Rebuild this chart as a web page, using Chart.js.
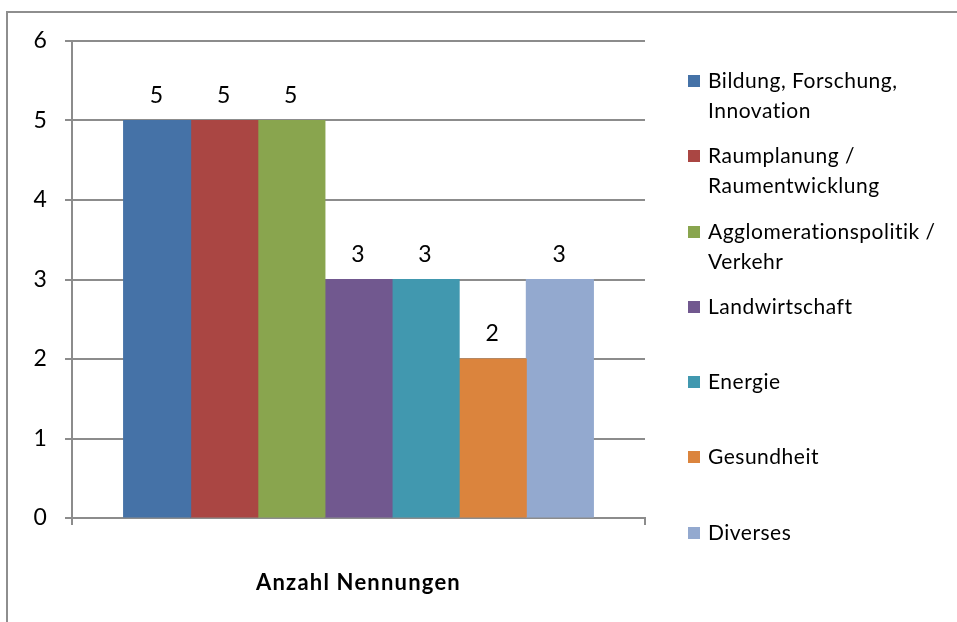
<!DOCTYPE html>
<html>
<head>
<meta charset="utf-8">
<script src="https://cdn.jsdelivr.net/npm/chart.js@4/dist/chart.umd.min.js"></script>
<style>
  html, body { margin: 0; padding: 0; background: #fff; overflow: hidden; }
  #wrap { position: relative; width: 957px; height: 622px; overflow: hidden; }
  #frame {
    position: absolute; left: 6px; top: 11px; width: 1000px; height: 700px;
    border-left: 2px solid #8e8e8e; border-top: 2px solid #8e8e8e;
  }
  #chart { position: absolute; left: 0; top: 0; }
  #legend {
    position: absolute; left: 688px; top: 65px;
    font-family: Lato, sans-serif; font-size: 21px; letter-spacing: 0.5px; color: #000;
  }
  .item { height: 75.3px; display: flex; align-items: flex-start; }
  .box { width: 12px; height: 12px; margin-top: 10px; margin-right: 8px; flex: none; }
  .txt { line-height: 30px; }
</style>
</head>
<body>
<div id="wrap">
  <div id="frame"></div>
  <canvas id="chart" width="957" height="622"></canvas>
  <div id="legend"></div>
</div>
<script>
  // Daten
  const categories = ["Anzahl Nennungen"];
  const seriesNames = [
    ["Bildung, Forschung,", "Innovation"],
    ["Raumplanung /", "Raumentwicklung"],
    ["Agglomerationspolitik /", "Verkehr"],
    ["Landwirtschaft"],
    ["Energie"],
    ["Gesundheit"],
    ["Diverses"],
  ];
  const seriesValues = [5, 5, 5, 3, 3, 2, 3];
  const seriesColors = ["#4572A7", "#AA4643", "#89A54E", "#71588F", "#4198AF", "#DB843D", "#93A9CF"];
  const yTicks = [0, 1, 2, 3, 4, 5, 6];

  const gridColor = "#8c8c8c";
  const fontFamily = "Lato, sans-serif";

  // etwas Sperrung für den Achsentext (Calibri wirkt breiter)
  const spacing = {
    id: "spacing",
    beforeDraw(chart) {
      chart.ctx.letterSpacing = "1.2px";
    },
  };

  // Werte über den Balken
  const valueLabels = {
    id: "valueLabels",
    afterDatasetsDraw(chart) {
      const ctx = chart.ctx;
      ctx.save();
      ctx.fillStyle = "#000";
      ctx.font = "23px " + fontFamily;
      ctx.textAlign = "center";
      ctx.textBaseline = "middle";
      chart.data.datasets.forEach((ds, i) => {
        chart.getDatasetMeta(i).data.forEach((bar, j) => {
          ctx.fillText(ds.data[j], bar.x, bar.y - 25);
        });
      });
      ctx.restore();
    },
  };

  const data = {
    labels: categories,
    datasets: seriesNames.map((name, i) => ({
      label: name.join(" "),
      data: [seriesValues[i]],
      backgroundColor: seriesColors[i],
      borderWidth: 0,
      inflateAmount: 0.5,
      categoryPercentage: 0.82,
      barPercentage: 1.0,
    })),
  };

  const config = {
    type: "bar",
    data: data,
    options: {
      responsive: false,
      animation: false,
      layout: {
        padding: { left: 0, right: 312, top: 41, bottom: 0 },
      },
      scales: {
        x: {
          offset: true,
          afterFit: (s) => {
            s.height = 104;
          },
          grid: {
            offset: true,
            drawOnChartArea: false,
            color: gridColor,
            lineWidth: 2,
            tickLength: 7,
          },
          border: { color: gridColor, width: 2 },
          ticks: {
            color: "#000",
            padding: 45,
            font: { family: fontFamily, size: 22, weight: "bold" },
          },
        },
        y: {
          min: 0,
          max: 6,
          afterFit: (s) => {
            s.width = 72;
          },
          afterBuildTicks: (axis) => {
            axis.ticks = yTicks.map((v) => ({ value: v }));
          },
          grid: { color: gridColor, lineWidth: 2, tickLength: 7 },
          border: { color: gridColor, width: 2 },
          ticks: {
            color: "#000",
            padding: 17,
            font: { family: fontFamily, size: 23 },
          },
        },
      },
      plugins: {
        legend: { display: false },
        tooltip: { enabled: false },
      },
    },
    plugins: [spacing, valueLabels],
  };

  new Chart(document.getElementById("chart").getContext("2d"), config);

  // Legende
  const legend = document.getElementById("legend");
  seriesNames.forEach((name, i) => {
    const item = document.createElement("div");
    item.className = "item";
    const box = document.createElement("span");
    box.className = "box";
    box.style.background = seriesColors[i];
    const txt = document.createElement("div");
    txt.className = "txt";
    txt.innerHTML = name.join("<br>");
    item.appendChild(box);
    item.appendChild(txt);
    legend.appendChild(item);
  });
</script>
</body>
</html>
